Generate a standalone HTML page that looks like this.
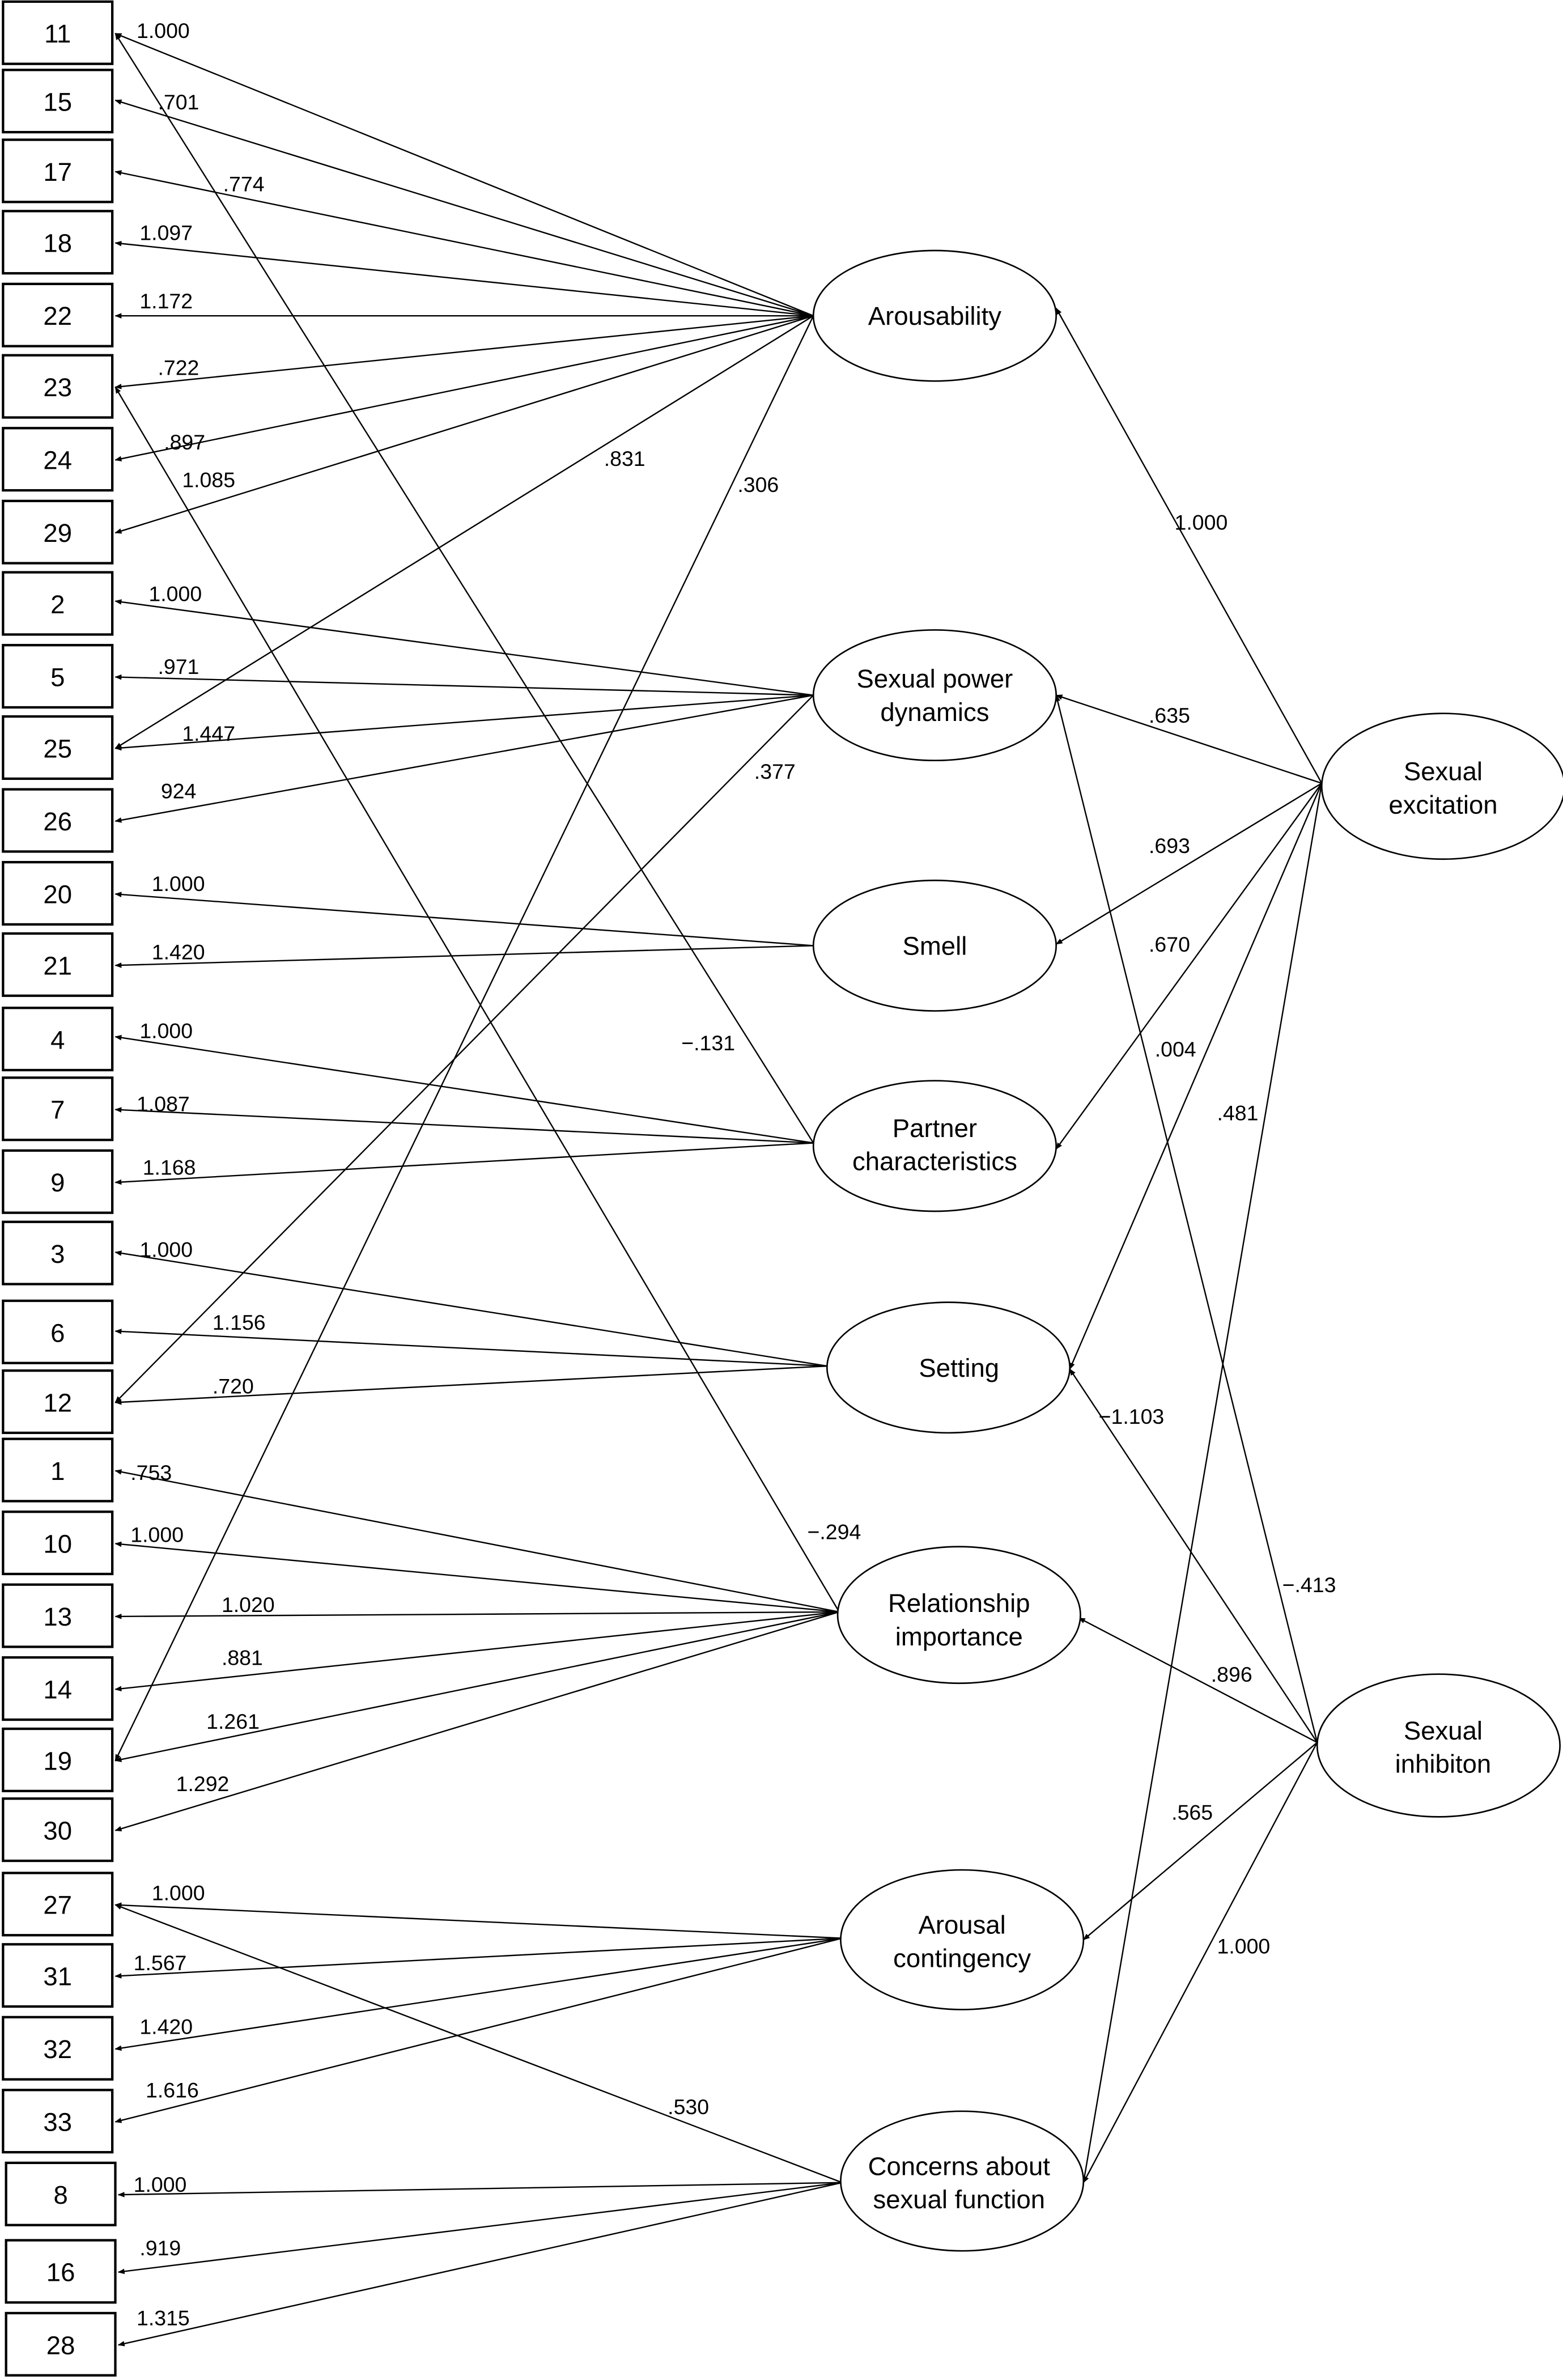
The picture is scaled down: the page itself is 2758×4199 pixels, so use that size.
<!DOCTYPE html>
<html><head><meta charset="utf-8"><style>
html,body{margin:0;padding:0;background:#fff}
svg{display:block}
text{font-family:"Liberation Sans",sans-serif;fill:#000}
.n{font-size:17px;text-anchor:middle}
.l{font-size:14px}
.e{font-size:17px;text-anchor:middle}
</style></head><body>
<svg width="2758" height="4199" viewBox="0 0 1030 1568" xmlns="http://www.w3.org/2000/svg">
<defs><marker id="a" viewBox="0 0 10 10" refX="9" refY="5" markerWidth="5" markerHeight="5" orient="auto"><path d="M0,1 L10,5 L0,9 z" fill="#000"/></marker></defs>
<g stroke="#000" stroke-width="1.6" fill="#fff">
<rect x="2" y="1" width="72" height="41"/>
<rect x="2" y="46" width="72" height="41"/>
<rect x="2" y="92" width="72" height="41"/>
<rect x="2" y="139" width="72" height="41"/>
<rect x="2" y="187" width="72" height="41"/>
<rect x="2" y="234" width="72" height="41"/>
<rect x="2" y="282" width="72" height="41"/>
<rect x="2" y="330" width="72" height="41"/>
<rect x="2" y="377" width="72" height="41"/>
<rect x="2" y="425" width="72" height="41"/>
<rect x="2" y="472" width="72" height="41"/>
<rect x="2" y="520" width="72" height="41"/>
<rect x="2" y="568" width="72" height="41"/>
<rect x="2" y="615" width="72" height="41"/>
<rect x="2" y="664" width="72" height="41"/>
<rect x="2" y="710" width="72" height="41"/>
<rect x="2" y="758" width="72" height="41"/>
<rect x="2" y="805" width="72" height="41"/>
<rect x="2" y="857" width="72" height="41"/>
<rect x="2" y="903" width="72" height="41"/>
<rect x="2" y="948" width="72" height="41"/>
<rect x="2" y="996" width="72" height="41"/>
<rect x="2" y="1044" width="72" height="41"/>
<rect x="2" y="1092" width="72" height="41"/>
<rect x="2" y="1139" width="72" height="41"/>
<rect x="2" y="1185" width="72" height="41"/>
<rect x="2" y="1234" width="72" height="41"/>
<rect x="2" y="1281" width="72" height="41"/>
<rect x="2" y="1329" width="72" height="41"/>
<rect x="2" y="1377" width="72" height="41"/>
<rect x="4" y="1425" width="72" height="41"/>
<rect x="4" y="1476" width="72" height="41"/>
<rect x="4" y="1524" width="72" height="41"/>
</g>
<g class="n">
<text x="38" y="28">11</text><text x="38" y="73">15</text><text x="38" y="119">17</text><text x="38" y="166">18</text>
<text x="38" y="214">22</text><text x="38" y="261">23</text><text x="38" y="309">24</text><text x="38" y="357">29</text>
<text x="38" y="404">2</text><text x="38" y="452">5</text><text x="38" y="499">25</text><text x="38" y="547">26</text>
<text x="38" y="595">20</text><text x="38" y="642">21</text><text x="38" y="691">4</text><text x="38" y="737">7</text>
<text x="38" y="785">9</text><text x="38" y="832">3</text><text x="38" y="884">6</text><text x="38" y="930">12</text>
<text x="38" y="975">1</text><text x="38" y="1023">10</text><text x="38" y="1071">13</text><text x="38" y="1119">14</text>
<text x="38" y="1166">19</text><text x="38" y="1212">30</text><text x="38" y="1261">27</text><text x="38" y="1308">31</text>
<text x="38" y="1356">32</text><text x="38" y="1404">33</text><text x="40" y="1452">8</text><text x="40" y="1503">16</text>
<text x="40" y="1551">28</text>
</g>
<g stroke="#000" stroke-width="0.9" fill="none" marker-end="url(#a)">
<!-- Arousability -->
<line x1="536" y1="208" x2="76" y2="22"/>
<line x1="536" y1="208" x2="76" y2="66"/>
<line x1="536" y1="208" x2="76" y2="113"/>
<line x1="536" y1="208" x2="76" y2="160"/>
<line x1="536" y1="208" x2="76" y2="208"/>
<line x1="536" y1="208" x2="76" y2="255"/>
<line x1="536" y1="208" x2="76" y2="303"/>
<line x1="536" y1="208" x2="76" y2="351"/>
<line x1="536" y1="208" x2="76" y2="493"/>
<line x1="536" y1="208" x2="76" y2="1160"/>
<!-- SPD -->
<line x1="536" y1="458" x2="76" y2="396"/>
<line x1="536" y1="458" x2="76" y2="446"/>
<line x1="536" y1="458" x2="76" y2="493"/>
<line x1="536" y1="458" x2="76" y2="541"/>
<line x1="536" y1="458" x2="76" y2="924"/>
<!-- Smell -->
<line x1="536" y1="623" x2="76" y2="589"/>
<line x1="536" y1="623" x2="76" y2="636"/>
<!-- Partner -->
<line x1="536" y1="753" x2="76" y2="22"/>
<line x1="536" y1="753" x2="76" y2="683"/>
<line x1="536" y1="753" x2="76" y2="731"/>
<line x1="536" y1="753" x2="76" y2="779"/>
<!-- Setting -->
<line x1="545" y1="900" x2="76" y2="825"/>
<line x1="545" y1="900" x2="76" y2="877"/>
<line x1="545" y1="900" x2="76" y2="924"/>
<!-- Relationship -->
<line x1="553" y1="1062" x2="76" y2="255"/>
<line x1="553" y1="1062" x2="76" y2="969"/>
<line x1="553" y1="1062" x2="76" y2="1017"/>
<line x1="553" y1="1062" x2="76" y2="1065"/>
<line x1="553" y1="1062" x2="76" y2="1113"/>
<line x1="553" y1="1062" x2="76" y2="1160"/>
<line x1="553" y1="1062" x2="76" y2="1206"/>
<!-- Arousal contingency -->
<line x1="555" y1="1277" x2="76" y2="1255"/>
<line x1="555" y1="1277" x2="76" y2="1302"/>
<line x1="555" y1="1277" x2="76" y2="1350"/>
<line x1="555" y1="1277" x2="76" y2="1398"/>
<!-- Concerns -->
<line x1="555" y1="1438" x2="76" y2="1255"/>
<line x1="555" y1="1438" x2="78" y2="1446"/>
<line x1="555" y1="1438" x2="78" y2="1497"/>
<line x1="555" y1="1438" x2="78" y2="1545"/>
<!-- Sexual excitation -->
<line x1="871" y1="516" x2="696" y2="203"/>
<line x1="871" y1="516" x2="696" y2="458"/>
<line x1="871" y1="516" x2="696" y2="622"/>
<line x1="871" y1="516" x2="696" y2="757"/>
<line x1="871" y1="516" x2="705" y2="902"/>
<line x1="871" y1="516" x2="714" y2="1438"/>
<!-- Sexual inhibition -->
<line x1="868" y1="1148" x2="696" y2="458"/>
<line x1="868" y1="1148" x2="705" y2="902"/>
<line x1="868" y1="1148" x2="711" y2="1066"/>
<line x1="868" y1="1148" x2="714" y2="1278"/>
<line x1="868" y1="1148" x2="714" y2="1438"/>
</g>
<g stroke="#000" stroke-width="1" fill="#fff">
<ellipse cx="616" cy="208" rx="80" ry="43"/>
<ellipse cx="616" cy="458" rx="80" ry="43"/>
<ellipse cx="616" cy="623" rx="80" ry="43"/>
<ellipse cx="616" cy="755" rx="80" ry="43"/>
<ellipse cx="625" cy="901" rx="80" ry="43"/>
<ellipse cx="632" cy="1064" rx="80" ry="45"/>
<ellipse cx="634" cy="1278" rx="80" ry="46"/>
<ellipse cx="634" cy="1437" rx="80" ry="46"/>
<ellipse cx="951" cy="518" rx="80" ry="48"/>
<ellipse cx="948" cy="1150" rx="80" ry="47"/>
</g>
<g class="e">
<text x="616" y="214">Arousability</text>
<text x="616" y="453">Sexual power</text><text x="616" y="475">dynamics</text>
<text x="616" y="629">Smell</text>
<text x="616" y="749">Partner</text><text x="616" y="771">characteristics</text>
<text x="632" y="907">Setting</text>
<text x="632" y="1062">Relationship</text><text x="632" y="1084">importance</text>
<text x="634" y="1274">Arousal</text><text x="634" y="1296">contingency</text>
<text x="632" y="1433">Concerns about</text><text x="632" y="1455">sexual function</text>
<text x="951" y="514">Sexual</text><text x="951" y="536">excitation</text>
<text x="951" y="1146">Sexual</text><text x="951" y="1168">inhibiton</text>
</g>
<g class="l">
<text x="90" y="25">1.000</text>
<text x="104" y="72">.701</text>
<text x="147" y="126">.774</text>
<text x="92" y="158">1.097</text>
<text x="92" y="203">1.172</text>
<text x="104" y="247">.722</text>
<text x="108" y="296">.897</text>
<text x="120" y="321">1.085</text>
<text x="398" y="307">.831</text>
<text x="486" y="324">.306</text>
<text x="98" y="396">1.000</text>
<text x="104" y="444">.971</text>
<text x="120" y="488">1.447</text>
<text x="106" y="526">924</text>
<text x="497" y="513">.377</text>
<text x="100" y="587">1.000</text>
<text x="100" y="632">1.420</text>
<text x="92" y="684">1.000</text>
<text x="449" y="692">−.131</text>
<text x="90" y="732">1.087</text>
<text x="94" y="774">1.168</text>
<text x="92" y="828">1.000</text>
<text x="140" y="876">1.156</text>
<text x="140" y="918">.720</text>
<text x="86" y="975">.753</text>
<text x="86" y="1016">1.000</text>
<text x="146" y="1062">1.020</text>
<text x="146" y="1097">.881</text>
<text x="136" y="1139">1.261</text>
<text x="116" y="1180">1.292</text>
<text x="532" y="1014">−.294</text>
<text x="100" y="1252">1.000</text>
<text x="88" y="1298">1.567</text>
<text x="92" y="1340">1.420</text>
<text x="96" y="1382">1.616</text>
<text x="440" y="1393">.530</text>
<text x="88" y="1444">1.000</text>
<text x="92" y="1486">.919</text>
<text x="90" y="1532">1.315</text>
<text x="774" y="349">1.000</text>
<text x="757" y="476">.635</text>
<text x="757" y="562">.693</text>
<text x="757" y="627">.670</text>
<text x="761" y="696">.004</text>
<text x="802" y="738">.481</text>
<text x="724" y="938">−1.103</text>
<text x="845" y="1049">−.413</text>
<text x="798" y="1108">.896</text>
<text x="772" y="1199">.565</text>
<text x="802" y="1287">1.000</text>
</g>
</svg>
</body></html>
